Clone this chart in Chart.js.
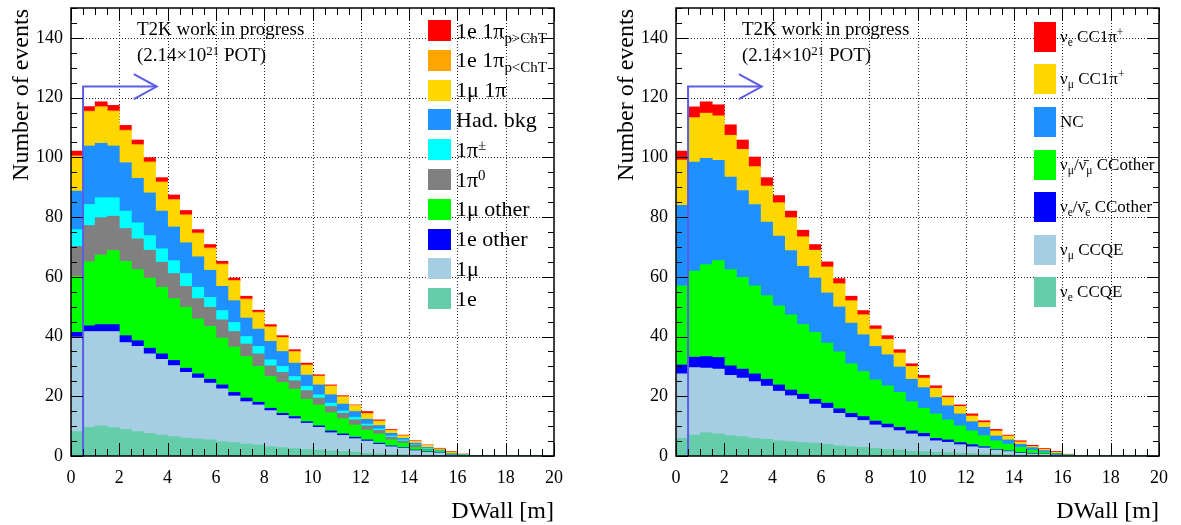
<!DOCTYPE html>
<html>
<head>
<meta charset="utf-8">
<script src="https://cdn.jsdelivr.net/npm/chart.js@4.4.0/dist/chart.umd.min.js"></script>
<style>
html,body{margin:0;padding:0;background:#fff;}
#wrap{position:relative;width:1181px;height:525px;overflow:hidden;font-family:"Liberation Serif","Times New Roman",serif;color:#000;}
canvas{position:absolute;top:0;}
.t{position:absolute;white-space:nowrap;}
.sw{position:absolute;}
sub,sup{line-height:0;font-size:0.68em;}
sub{vertical-align:-0.32em;}
sup{vertical-align:0.5em;}
.ytitle{position:absolute;width:400px;text-align:right;transform-origin:0 0;transform:rotate(-90deg);white-space:nowrap;font-size:24px;line-height:24px;}
</style>
</head>
<body>
<div id="wrap">
  <canvas id="cL" width="590" height="525" style="left:0px"></canvas>
  <canvas id="cR" width="591" height="525" style="left:590px"></canvas>
</div>
<script>
// ---------------- data ----------------
const BIN_CENTERS = [0.25,0.75,1.25,1.75,2.25,2.75,3.25,3.75,4.25,4.75,5.25,5.75,6.25,6.75,7.25,7.75,8.25,8.75,9.25,9.75,
  10.25,10.75,11.25,11.75,12.25,12.75,13.25,13.75,14.25,14.75,15.25,15.75,16.25,16.75,17.25,17.75,18.25,18.75,19.25,19.75];
const X_TICK_VALUES = [0,2,4,6,8,10,12,14,16,18,20];
const Y_TICK_VALUES = [0,20,40,60,80,100,120,140];

// Left panel (reco topology), stacked bottom -> top
const L_1e        = [8.2,9.6,10.1,9.5,8.9,8.2,7.6,7.0,6.5,6.0,5.7,5.4,4.8,4.5,4.0,3.7,3.1,2.8,2.5,2.2,2.0,1.7,1.5,1.3,0.9,0.7,0.6,0.5,0.3,0.2,0.2,0.1,0.05,0,0,0,0,0,0,0];
const L_1mu       = [31.6,32.1,31.6,32.2,29.1,28.5,26.6,25.4,23.8,22.0,20.4,19.0,17.7,15.6,14.2,13.4,12.1,10.8,10.0,8.8,7.6,6.1,5.4,4.5,4.1,3.2,2.5,2.1,1.5,1.1,0.8,0.3,0.15,0,0,0,0,0,0,0];
const L_1eOther   = [1.6,1.9,2.3,2.3,2.3,1.9,1.9,1.8,1.7,1.4,1.4,1.3,1.3,1.2,1.2,0.9,0.8,0.7,0.7,0.5,0.5,0.6,0.5,0.5,0.4,0.4,0.3,0.2,0.2,0.2,0.1,0.05,0.02,0,0,0,0,0,0,0];
const L_1muOther  = [18.8,21.4,23.3,24.8,24.9,23.8,23.5,22.3,20.7,20.4,18.4,17.7,15.7,15.2,13.9,12.0,10.6,10.3,9.2,7.5,7.0,6.1,5.1,4.1,3.3,3.1,2.0,1.5,0.8,0.5,0.4,0.25,0.1,0,0,0,0,0,0,0];
const L_1pi0      = [10.0,12.2,12.5,11.5,11.0,10.3,9.3,8.4,8.4,7.0,6.8,6.4,6.1,5.2,4.2,4.2,3.6,3.4,2.8,2.9,2.3,2.1,1.8,1.7,1.4,1.2,0.9,0.7,0.8,0.3,0.2,0.05,0.05,0,0,0,0,0,0,0];
const L_1piPM     = [5.6,7.0,6.7,6.2,5.8,5.4,4.9,4.5,4.3,4.3,3.8,3.3,3.1,3.0,2.5,2.5,2.0,2.0,1.4,1.4,1.1,1.1,0.8,0.9,0.6,0.5,0.4,0.4,0.2,0.3,0.1,0.05,0.02,0,0,0,0,0,0,0];
const L_hadBkg    = [12.9,19.6,18.2,17.3,16.2,14.9,14.3,12.6,11.3,10.3,10.2,9.1,8.1,7.3,6.2,5.8,6.2,5.0,4.5,3.8,3.3,2.8,2.3,1.9,1.6,1.1,0.9,0.5,0.5,0.3,0.2,0.1,0.05,0,0,0,0,0,0,0];
const L_1mu1pi    = [11.5,11.4,12.0,11.5,10.6,11.0,10.1,9.5,8.9,9.1,7.7,7.2,7.2,6.5,6.1,5.4,4.7,4.5,3.7,3.2,2.8,2.8,2.3,1.9,1.8,1.4,0.9,0.8,0.5,0.6,0.3,0.3,0.1,0,0,0,0,0,0,0];
const L_1e1piLow  = [0.3,0.3,0.3,0.3,0.3,0.3,0.3,0.3,0.3,0.3,0.3,0.3,0.3,0.3,0.3,0.3,0.2,0.2,0.2,0.2,0.2,0.2,0.2,0.15,0.2,0.15,0.15,0.1,0.1,0.1,0.1,0.1,0.05,0,0,0,0,0,0,0];
const L_1e1piHigh = [1.6,1.5,1.6,1.8,1.6,1.5,1.4,1.4,1.5,1.4,1.1,1.1,0.9,0.8,0.9,0.6,0.7,0.6,0.6,0.6,0.4,0.3,0.3,0.15,0.6,0.35,0.25,0.2,0.2,0.1,0.2,0.2,0.05,0,0,0,0,0,0,0];

// Right panel (true interaction mode), stacked bottom -> top
const R_nueCCQE     = [5.9,7.0,7.8,7.4,6.8,6.5,5.9,5.6,5.1,4.8,4.5,4.3,3.9,3.4,3.1,2.9,2.6,2.2,2.0,1.6,1.5,1.2,1.1,0.9,0.8,0.7,0.6,0.5,0.3,0.2,0.15,0.1,0.05,0,0,0,0,0,0,0];
const R_numuCCQE    = [21.6,22.6,21.6,21.7,20.2,19.6,19.0,17.8,16.6,15.4,14.5,13.1,12.1,10.9,9.8,9.0,7.8,7.3,6.5,5.8,5.0,3.9,3.5,2.9,2.3,2.0,1.4,1.0,0.6,0.5,0.45,0.25,0.1,0,0,0,0,0,0,0];
const R_nueCCother  = [3.0,3.5,3.9,3.9,3.2,3.0,2.6,2.3,2.1,1.9,1.7,1.6,1.7,1.5,1.4,1.3,1.3,1.2,1.1,1.0,1.1,0.8,0.8,0.7,0.7,0.4,0.2,0.2,0.2,0.2,0.1,0.1,0.05,0,0,0,0,0,0,0];
const R_numuCCother = [26.5,28.8,30.8,32.4,32.2,30.7,29.5,28.0,26.5,25.2,23.3,22.4,20.1,19.1,16.6,15.1,13.8,12.8,11.7,9.8,8.4,8.2,6.7,5.6,4.6,3.7,2.9,2.3,1.8,1.1,0.6,0.25,0.1,0,0,0,0,0,0,0];
const R_NC          = [26.9,36.5,35.6,33.6,31.0,29.1,27.2,24.6,23.3,21.5,19.5,18.2,16.8,15.0,13.6,12.3,11.2,10.4,8.5,7.5,6.9,5.5,4.7,4.0,3.1,2.8,1.6,1.4,1.0,0.8,0.5,0.2,0.1,0,0,0,0,0,0,0];
const R_numuCC1pi   = [15.2,14.9,15.1,14.9,14.0,13.8,12.7,12.1,11.2,11.0,9.9,9.3,8.7,7.8,7.5,6.7,5.8,5.2,4.7,4.3,3.2,3.1,2.8,2.5,1.9,1.6,1.7,1.3,0.8,0.4,0.4,0.3,0.1,0,0,0,0,0,0,0];
const R_nueCC1pi    = [3.0,3.6,3.8,3.7,3.5,3.1,3.2,2.8,2.4,2.2,2.2,1.9,1.7,1.7,1.5,1.4,1.1,1.2,1.1,0.9,0.9,0.8,0.5,0.5,0.7,0.6,0.5,0.3,0.4,0.4,0.3,0.3,0.1,0,0,0,0,0,0,0];

// DWall cut arrow (data units)
const CUT_DWALL = 0.5;
const ARROW_LEVEL = 123.7;
const ARROW_TIP = 3.55;
const ARROW_BACK = 2.6;
const ARROW_HALF = 4.2;

// ---------------- styles ----------------
const COL = {
  teal:'#66CDAA', lblue:'#A6CEE3', blue:'#0000FF', green:'#00FF00', gray:'#808080',
  cyan:'#00FFFF', dodger:'#1E90FF', gold:'#FFD700', orange:'#FFA500', red:'#FF0000'
};
const ARROW_COL = '#5c5ce6';

const LEFT_SERIES = [
  {label:'1e', data:L_1e, color:COL.teal},
  {label:'1μ', data:L_1mu, color:COL.lblue},
  {label:'1e other', data:L_1eOther, color:COL.blue},
  {label:'1μ other', data:L_1muOther, color:COL.green},
  {label:'1π0', data:L_1pi0, color:COL.gray},
  {label:'1π±', data:L_1piPM, color:COL.cyan},
  {label:'Had. bkg', data:L_hadBkg, color:COL.dodger},
  {label:'1μ 1π', data:L_1mu1pi, color:COL.gold},
  {label:'1e 1π p<ChT', data:L_1e1piLow, color:COL.orange},
  {label:'1e 1π p>ChT', data:L_1e1piHigh, color:COL.red}
];
const RIGHT_SERIES = [
  {label:'νe CCQE', data:R_nueCCQE, color:COL.teal},
  {label:'νμ CCQE', data:R_numuCCQE, color:COL.lblue},
  {label:'νe CCother', data:R_nueCCother, color:COL.blue},
  {label:'νμ CCother', data:R_numuCCother, color:COL.green},
  {label:'NC', data:R_NC, color:COL.dodger},
  {label:'νμ CC1π+', data:R_numuCC1pi, color:COL.gold},
  {label:'νe CC1π+', data:R_nueCC1pi, color:COL.red}
];

const LEFT_LEGEND = [
  ['1e 1π<sub>p&gt;ChT</sub>', COL.red],
  ['1e 1π<sub>p&lt;ChT</sub>', COL.orange],
  ['1μ 1π', COL.gold],
  ['Had. bkg', COL.dodger],
  ['1π<sup>±</sup>', COL.cyan],
  ['1π<sup>0</sup>', COL.gray],
  ['1μ other', COL.green],
  ['1e other', COL.blue],
  ['1μ', COL.lblue],
  ['1e', COL.teal]
];
const RIGHT_LEGEND = [
  ['ν<sub>e</sub> CC1π<sup>+</sup>', COL.red],
  ['ν<sub>μ</sub> CC1π<sup>+</sup>', COL.gold],
  ['NC', COL.dodger],
  ['ν<sub>μ</sub>/ν\u0304<sub>μ</sub> CCother', COL.green],
  ['ν<sub>e</sub>/ν\u0304<sub>e</sub> CCother', COL.blue],
  ['ν<sub>μ</sub> CCQE', COL.lblue],
  ['ν<sub>e</sub> CCQE', COL.teal]
];

Chart.defaults.font.family = '"Liberation Serif","Times New Roman",serif';
Chart.defaults.color = '#000';

const rootAxes = {
  id:'rootAxes',
  beforeDatasetsDraw(chart){
    const {ctx, chartArea:a, scales:{x,y}} = chart;
    ctx.save();
    ctx.strokeStyle = '#222'; ctx.lineWidth = 1; ctx.setLineDash([1,2]);
    X_TICK_VALUES.forEach(v=>{
      if (v <= x.min || v >= x.max) return;
      const px = Math.round(x.getPixelForValue(v)) + 0.5;
      ctx.beginPath(); ctx.moveTo(px, a.top); ctx.lineTo(px, a.bottom); ctx.stroke();
    });
    Y_TICK_VALUES.forEach(v=>{
      if (v <= y.min || v >= y.max) return;
      const py = Math.round(y.getPixelForValue(v)) + 0.5;
      ctx.beginPath(); ctx.moveTo(a.left, py); ctx.lineTo(a.right, py); ctx.stroke();
    });
    ctx.restore();
  },
  afterDatasetsDraw(chart){
    const {ctx, chartArea:a, scales:{x,y}} = chart;
    ctx.save();
    ctx.strokeStyle = '#000'; ctx.lineWidth = 1; ctx.setLineDash([]);
    ctx.beginPath();
    for (let k = 0; k <= 40; k++){
      const v = k*0.5; const major = (k % 4 === 0);
      const len = major ? 13 : 7;
      const px = Math.round(x.getPixelForValue(v)) + 0.5;
      ctx.moveTo(px, a.bottom); ctx.lineTo(px, a.bottom - len);
      ctx.moveTo(px, a.top); ctx.lineTo(px, a.top + len);
    }
    for (let k = 0; k <= 30; k++){
      const v = k*5; const major = (k % 4 === 0);
      const len = major ? 12 : 6;
      const py = Math.round(y.getPixelForValue(v)) + 0.5;
      ctx.moveTo(a.left, py); ctx.lineTo(a.left + len, py);
      ctx.moveTo(a.right, py); ctx.lineTo(a.right - len, py);
    }
    ctx.stroke();
    ctx.lineWidth = 1.5;
    ctx.strokeRect(a.left, a.top, a.right - a.left, a.bottom - a.top);
    ctx.restore();
  }
};

function makeChart(canvasId, series, yAxisWidth, padRight){
  const datasets = series.map(s=>({
    type:'bar', label:s.label,
    data: BIN_CENTERS.map((c,i)=>({x:c, y:s.data[i]})),
    backgroundColor:s.color, borderWidth:0,
    barPercentage:1, categoryPercentage:1, yAxisID:'y'
  }));
  datasets.push({
    type:'line', label:'cut', yAxisID:'yA', order:-2,
    data:[{x:CUT_DWALL,y:0},{x:CUT_DWALL,y:ARROW_LEVEL},{x:ARROW_TIP,y:ARROW_LEVEL}],
    borderColor:ARROW_COL, borderWidth:2, pointRadius:0, fill:false, tension:0
  });
  datasets.push({
    type:'line', label:'head', yAxisID:'yA', order:-1,
    data:[{x:ARROW_BACK,y:ARROW_LEVEL+ARROW_HALF},{x:ARROW_TIP,y:ARROW_LEVEL},{x:ARROW_BACK,y:ARROW_LEVEL-ARROW_HALF}],
    borderColor:ARROW_COL, borderWidth:2, pointRadius:0, fill:false, tension:0
  });
  return new Chart(document.getElementById(canvasId), {
    type:'bar',
    data:{datasets},
    options:{
      responsive:false, animation:false, devicePixelRatio:1,
      layout:{padding:{left:0, right:padRight, top:8, bottom:0}},
      plugins:{legend:{display:false}, tooltip:{enabled:false}},
      scales:{
        x:{type:'linear', min:0, max:20, stacked:true, offset:false,
           grid:{display:false, drawTicks:false}, border:{display:false},
           afterBuildTicks:s=>{ s.ticks = X_TICK_VALUES.map(v=>({value:v})); },
           afterFit:s=>{ s.height = 69; s.paddingLeft = 0; s.paddingRight = 0; },
           ticks:{font:{size:18}, padding:11, maxRotation:0, autoSkip:false, callback:v=>String(v)}},
        y:{type:'linear', min:0, max:150, stacked:true,
           grid:{display:false, drawTicks:false}, border:{display:false},
           afterBuildTicks:s=>{ s.ticks = Y_TICK_VALUES.map(v=>({value:v})); },
           afterFit:s=>{ s.width = yAxisWidth; s.paddingTop = 0; s.paddingBottom = 0; },
           ticks:{font:{size:18}, padding:8, autoSkip:false, callback:v=>String(v)}},
        yA:{type:'linear', min:0, max:150, display:false, stacked:false}
      }
    },
    plugins:[rootAxes]
  });
}

makeChart('cL', LEFT_SERIES, 71, 36);
makeChart('cR', RIGHT_SERIES, 86, 22);

// ---------------- text overlays ----------------
const wrap = document.getElementById('wrap');
function addText(html, left, top, size, lh, extra){
  const d = document.createElement('div');
  d.className = 't';
  d.innerHTML = html;
  d.style.left = left + 'px'; d.style.top = top + 'px';
  d.style.fontSize = size + 'px'; d.style.lineHeight = lh + 'px';
  if (extra) Object.assign(d.style, extra);
  wrap.appendChild(d);
  return d;
}
function addSwatch(color, left, top, w, h){
  const d = document.createElement('div');
  d.className = 'sw';
  Object.assign(d.style, {left:left+'px', top:top+'px', width:w+'px', height:h+'px', background:color});
  wrap.appendChild(d);
}
[0, 605].forEach(off=>{
  addText('T2K work in progress', 137+off, 18, 19, 22);
  addText('(2.14×10<sup>21</sup> POT)', 137+off, 44, 19, 22);
  addText('DWall [m]', 0, 497, 24, 26, {width:(554+off)+'px', textAlign:'right', left:'0px'});
  const yt = document.createElement('div');
  yt.className = 'ytitle';
  yt.textContent = 'Number of events';
  yt.style.left = (8+off) + 'px';
  yt.style.top = (9+400) + 'px';
  wrap.appendChild(yt);
});
LEFT_LEGEND.forEach((e,i)=>{
  const top = 20 + i*29.8;
  addSwatch(e[1], 428, top, 23, 21);
  addText(e[0], 456, top + 10.5 - 12, 22, 24);
});
RIGHT_LEGEND.forEach((e,i)=>{
  const top = 21.7 + i*42.6;
  addSwatch(e[1], 1034, top, 22, 30);
  addText(e[0], 1060, top + 15 - 10, 17, 20);
});
</script>
</body>
</html>
